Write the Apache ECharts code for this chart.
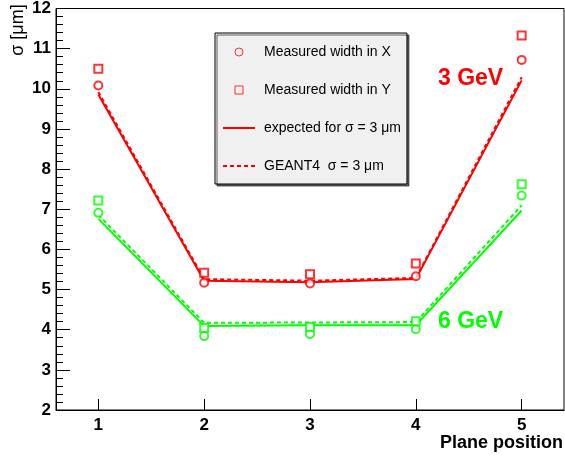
<!DOCTYPE html>
<html>
<head>
<meta charset="utf-8">
<script src="https://cdn.jsdelivr.net/npm/echarts@6/dist/echarts.min.js"></script>
<style>
  html, body { margin: 0; padding: 0; background: #fff; }
  #chart { width: 565px; height: 461px; }
</style>
</head>
<body>
<div id="chart"></div>
<script>
// plane positions along the beam
const positions = [1, 2, 3, 4, 5]
const xTicks = [1, 2, 3, 4, 5]

// 3 GeV
const widthX3 = [10.08, 5.17, 5.15, 5.33, 10.72]
const widthY3 = [10.5, 5.42, 5.38, 5.65, 11.33]
const expected3 = [9.86, 5.22, 5.18, 5.26, 10.21]
const geant3 = [9.92, 5.26, 5.22, 5.29, 10.29]

// 6 GeV
const widthX6 = [6.91, 3.84, 3.89, 4.01, 7.34]
const widthY6 = [7.22, 4.04, 4.07, 4.21, 7.62]
const expected6 = [6.76, 4.09, 4.11, 4.11, 6.97]
const geant6 = [6.86, 4.17, 4.18, 4.19, 7.1]

const RED = '#ff0000'
const GREEN = '#00ff00'
const FONT = '"Liberation Sans", Arial, Helvetica, sans-serif'
const SQUARE = 'path://M0,0L10,0L10,10L0,10Z'

const pts = (vals) => positions.map((p, i) => [p, vals[i]])

const scatter = (name, vals, symbol, color) => ({
  name: name,
  type: 'scatter',
  data: pts(vals),
  symbol: symbol,
  symbolSize: 8,
  symbolKeepAspect: true,
  itemStyle: { color: color, borderColor: color, borderWidth: 1 },
  z: 5,
})

const line = (name, vals, dashed, color) => ({
  name: name,
  type: 'line',
  data: pts(vals),
  symbol: 'none',
  smooth: false,
  lineStyle: { color: color, width: 2, type: dashed ? [4, 3] : 'solid' },
  itemStyle: { color: color },
})

const option = {
  animation: false,
  textStyle: { fontFamily: FONT },
  grid: { left: 56, right: 1, top: 8, bottom: 51, show: true, borderColor: '#000', borderWidth: 1 },
  legend: {
    orient: 'vertical',
    left: 215,
    top: 33,
    padding: [12, 6, 11, 7],
    itemWidth: 32,
    itemHeight: 8,
    itemGap: 24,
    backgroundColor: '#f0f0f0',
    borderColor: '#000',
    borderWidth: 1,
    shadowColor: 'rgba(0,0,0,0.6)',
    shadowOffsetX: 2,
    shadowOffsetY: 2,
    shadowBlur: 0,
    selectedMode: false,
    textStyle: { fontSize: 14, color: '#000', padding: [0, 0, 0, 4] },
    data: [
      { name: 'Measured width in X', icon: 'circle', itemStyle: { color: '#f0f0f0', borderColor: RED, borderWidth: 1 } },
      { name: 'Measured width in Y', icon: SQUARE, itemStyle: { color: '#f0f0f0', borderColor: RED, borderWidth: 1 } },
      { name: 'expected for σ = 3 μm', itemStyle: { opacity: 0 } },
      { name: 'GEANT4  σ = 3 μm', itemStyle: { opacity: 0 } },
    ],
  },
  xAxis: {
    type: 'value',
    min: 0.6,
    max: 5.4,
    splitLine: { show: false },
    axisLine: { onZero: false, lineStyle: { color: '#000', width: 1 } },
    axisTick: { inside: true, length: 11, customValues: xTicks, lineStyle: { color: '#000' } },
    axisLabel: { customValues: xTicks, margin: 7, fontSize: 17, fontWeight: 'bold', color: '#000' },
  },
  yAxis: {
    type: 'value',
    min: 2,
    max: 12,
    interval: 1,
    splitLine: { show: false },
    axisLine: { show: true, lineStyle: { color: '#000', width: 1 } },
    axisTick: { inside: true, length: 14, lineStyle: { color: '#000' } },
    minorTick: { show: true, splitNumber: 5, length: 7, lineStyle: { color: '#000' } },
    axisLabel: { margin: 5, fontSize: 17, fontWeight: 'bold', color: '#000' },
  },
  graphic: [
    {
      type: 'text', left: 438, top: 67,
      style: { text: '3 GeV', font: 'bold 23px ' + FONT, fill: RED },
    },
    {
      type: 'text', left: 438, top: 310,
      style: { text: '6 GeV', font: 'bold 23px ' + FONT, fill: GREEN },
    },
    {
      type: 'text', right: 2, top: 434,
      style: { text: 'Plane position', font: 'bold 18px ' + FONT, fill: '#000' },
    },
    {
      type: 'text', x: 18, y: 30, rotation: Math.PI / 2,
      style: { text: 'σ [μm]', font: '18px ' + FONT, fill: '#000', align: 'center', verticalAlign: 'middle' },
    },
  ],
  series: [
    scatter('Measured width in X', widthX3, 'emptyCircle', RED),
    scatter('Measured width in Y', widthY3, 'emptyRect', RED),
    line('expected for σ = 3 μm', expected3, false, RED),
    line('GEANT4  σ = 3 μm', geant3, true, RED),
    scatter('X 6 GeV', widthX6, 'emptyCircle', GREEN),
    scatter('Y 6 GeV', widthY6, 'emptyRect', GREEN),
    line('expected 6 GeV', expected6, false, GREEN),
    line('GEANT4 6 GeV', geant6, true, GREEN),
  ],
}

const c = echarts.init(document.getElementById('chart'))
c.setOption(option)
</script>
</body>
</html>
